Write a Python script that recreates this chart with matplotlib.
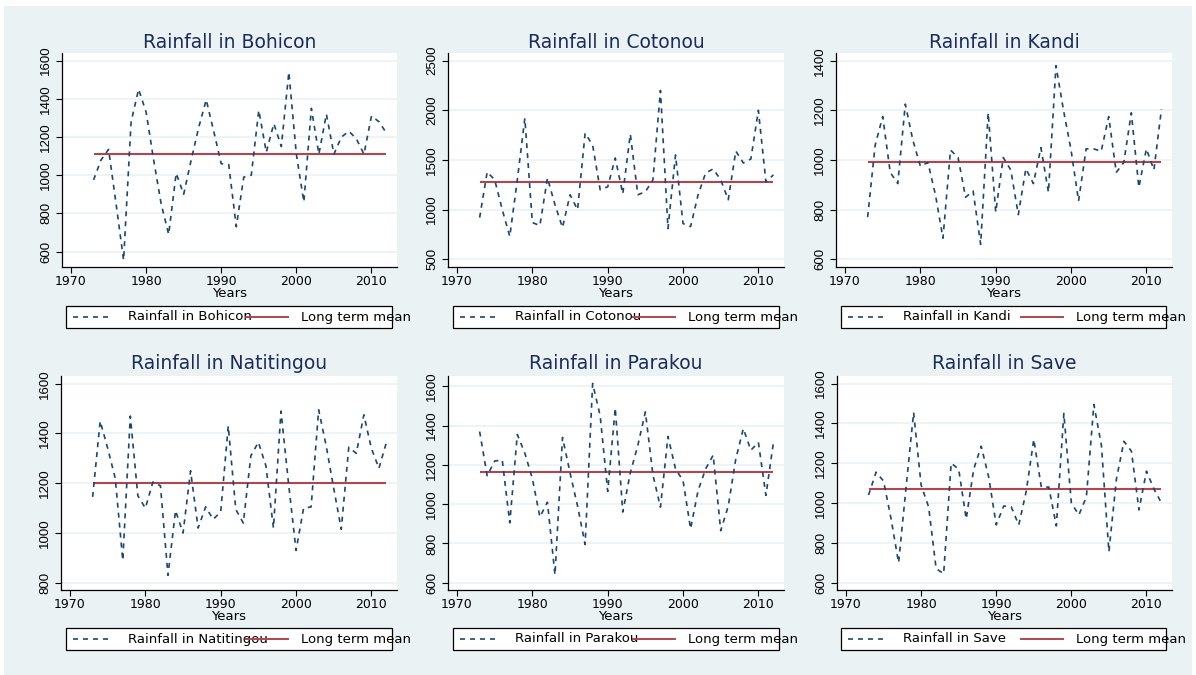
import matplotlib
matplotlib.use("Agg")
import matplotlib.pyplot as plt
from matplotlib.lines import Line2D
from matplotlib.patches import Rectangle

plt.rcParams['font.family'] = ['DejaVu Sans']

years = list(range(1973, 2013))

stations = ["Bohicon", "Cotonou", "Kandi", "Natitingou", "Parakou", "Save"]

bohicon = [975, 1080, 1135, 850, 555, 1280, 1450, 1330, 1080, 850,
           690, 1010, 900, 1080, 1250, 1395, 1230, 1060, 1055, 730,
           990, 1000, 1340, 1120, 1270, 1150, 1540, 1110, 860, 1350,
           1110, 1320, 1110, 1200, 1230, 1190, 1110, 1310, 1280, 1220]
cotonou = [920, 1380, 1300, 1000, 730, 1300, 1920, 870, 840, 1320,
           1050, 820, 1150, 1000, 1770, 1650, 1200, 1230, 1520, 1160,
           1760, 1150, 1180, 1300, 2200, 810, 1550, 860, 830, 1150,
           1370, 1410, 1300, 1100, 1590, 1470, 1510, 2000, 1280, 1350]
kandi = [770, 1060, 1175, 950, 905, 1225, 1080, 975, 990, 860,
         685, 1040, 1010, 850, 875, 660, 1190, 790, 1010, 960,
         780, 965, 905, 1050, 870, 1380, 1200, 1040, 835, 1045,
         1045, 1035, 1175, 950, 990, 1190, 890, 1045, 960, 1205]
natitingou = [1145, 1450, 1340, 1220, 890, 1470, 1150, 1100, 1205, 1190,
              830, 1090, 1000, 1250, 1020, 1105, 1055, 1085, 1430, 1095,
              1040, 1310, 1365, 1270, 1020, 1490, 1200, 930, 1100, 1105,
              1495, 1350, 1180, 1015, 1345, 1320, 1475, 1340, 1260, 1365]
parakou = [1370, 1145, 1220, 1225, 905, 1355, 1260, 1130, 935, 1010,
           640, 1340, 1160, 990, 795, 1615, 1450, 1065, 1490, 960,
           1160, 1300, 1470, 1150, 985, 1345, 1180, 1120, 875, 1070,
           1180, 1250, 865, 990, 1230, 1385, 1275, 1315, 1045, 1315]
save = [1040, 1155, 1110, 920, 700, 1080, 1455, 1090, 980, 670,
        645, 1200, 1170, 920, 1170, 1285, 1130, 890, 985, 980,
        890, 1060, 1320, 1080, 1080, 885, 1450, 1000, 940, 1030,
        1495, 1290, 755, 1120, 1310, 1260, 965, 1160, 1070, 1000]

series = [bohicon, cotonou, kandi, natitingou, parakou, save]
means = [1110, 1280, 990, 1200, 1165, 1070]

yticks = [[600, 800, 1000, 1200, 1400, 1600],
          [500, 1000, 1500, 2000, 2500],
          [600, 800, 1000, 1200, 1400],
          [800, 1000, 1200, 1400, 1600],
          [600, 800, 1000, 1200, 1400, 1600],
          [600, 800, 1000, 1200, 1400, 1600]]
ylims = [(519, 1640), (423, 2577), (569, 1431),
         (771, 1631), (563, 1653), (563, 1638)]
xticks = [1970, 1980, 1990, 2000, 2010]

W, H = 1196, 675
BG = '#eaf2f3'
NAVY = '#1a476f'
MAROON = '#b0454d'
TITLE = '#1c2b5a'

fig = plt.figure(figsize=(W / 100, H / 100), dpi=100)
fig.patch.set_facecolor('white')
fig.patches.append(Rectangle((4 / W, 0), (1192 - 4) / W, (H - 6) / H,
                             transform=fig.transFigure, facecolor=BG,
                             edgecolor='none', zorder=-10))

# (left, top, right, bottom) in pixels
rects = [(62, 53, 397, 267), (448, 53, 784, 267), (836, 53, 1172, 267),
         (61, 376, 397, 590), (448, 376, 784, 590), (837, 376, 1172, 590)]
title_y = [42, 42, 42, 364, 364, 364]
legend_boxes = [(66, 306, 392, 328), (453, 306, 779, 328), (841, 306, 1166, 328),
                (66, 628, 392, 650), (453, 628, 779, 650), (841, 628, 1166, 650)]


def fx(px):
    return px / W


def fy(py):
    return 1 - py / H


for i, name in enumerate(stations):
    l, t, r, b = rects[i]
    ax = fig.add_axes([fx(l), fy(b), (r - l) / W, (b - t) / H])
    ax.set_facecolor('white')
    ax.plot(years, series[i], color=NAVY, lw=1.2, linestyle=(0, (3, 3)), zorder=3)
    ax.hlines(means[i], years[0], years[-1], color=MAROON, lw=1.5, zorder=2)
    ax.set_xlim(1968.8, 2013.4)
    ax.set_ylim(*ylims[i])
    ax.set_xticks(xticks)
    ax.set_yticks(yticks[i])
    ax.set_yticklabels([str(v) for v in yticks[i]], rotation=90, va='center',
                       family=['Liberation Sans', 'DejaVu Sans'], fontsize=9.5)
    ax.tick_params(axis='x', labelsize=9, length=4, width=0.8, color='black',
                   pad=2)
    ax.tick_params(axis='y', length=4, width=0.8, color='black', pad=3)
    ax.grid(axis='y', color=BG, lw=1.2, zorder=0)
    ax.grid(axis='x', visible=False)
    ax.set_axisbelow(True)
    for s in ['top', 'right']:
        ax.spines[s].set_visible(False)
    for s in ['left', 'bottom']:
        ax.spines[s].set_linewidth(0.9)
        ax.spines[s].set_color('black')
    ax.set_xlabel('Years', fontsize=9.5, labelpad=-1)
    fig.text(fx((l + r) / 2), fy(title_y[i]), 'Rainfall in ' + name,
             ha='center', va='center', fontsize=13.5, color=TITLE)

    # legend (Stata style, manually drawn)
    bl, bt, br, bb = legend_boxes[i]
    fig.patches.append(Rectangle((fx(bl), fy(bb)), (br - bl) / W, (bb - bt) / H,
                                 transform=fig.transFigure, facecolor='white',
                                 edgecolor='black', lw=0.9, zorder=5))
    ym = fy((bt + bb) / 2)
    fig.lines.append(Line2D([fx(bl + 7), fx(bl + 43)], [ym, ym],
                            transform=fig.transFigure, color=NAVY, lw=1.2,
                            linestyle=(0, (3, 3)), zorder=6))
    fig.text(fx(bl + 62), ym, 'Rainfall in ' + name, ha='left', va='center',
             fontsize=9.5, zorder=7)
    fig.lines.append(Line2D([fx(bl + 180), fx(bl + 222)], [ym, ym],
                            transform=fig.transFigure, color=MAROON, lw=1.4,
                            zorder=8))
    fig.text(fx(bl + 235), ym, 'Long term mean', ha='left', va='center',
             fontsize=9.5, zorder=7)

fig.savefig('out.png', dpi=100)
